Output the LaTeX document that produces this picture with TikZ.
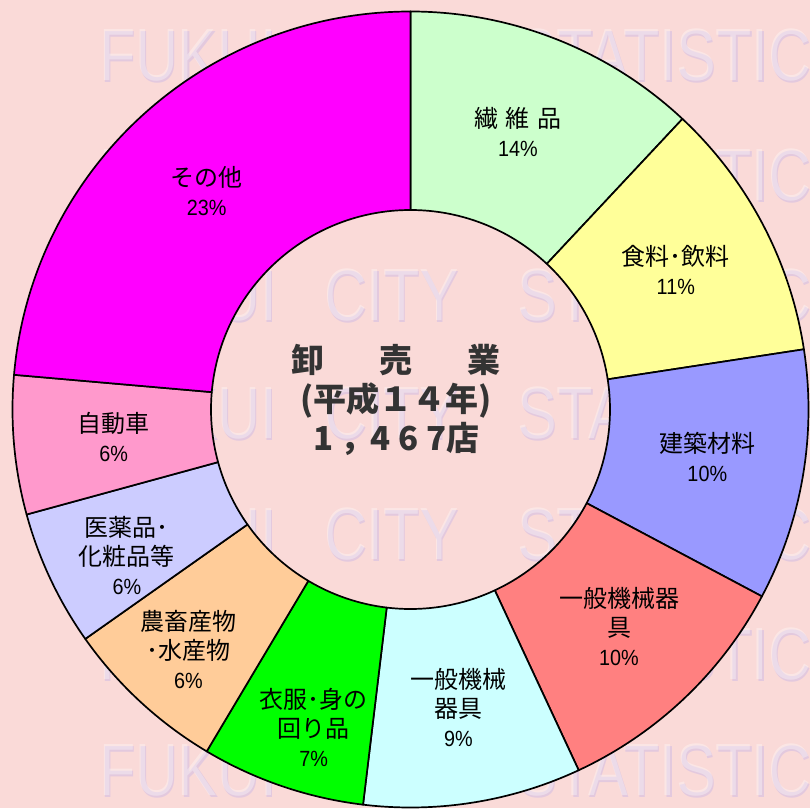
\documentclass[tikz,border=0pt]{standalone}
\usepackage{fontspec}
\newfontfamily\jpfont{Noto Sans CJK JP}
\newfontfamily\pctfont{Liberation Sans}[FakeStretch=0.9]
\newfontfamily\wmfont{Liberation Sans}[FakeStretch=0.8]

\definecolor{bgpink}{RGB}{250,218,216}
\definecolor{wmshade}{RGB}{185,170,235}
\definecolor{darktext}{RGB}{51,51,51}
\definecolor{cSen}{HTML}{CCFFCC}
\definecolor{cShoku}{HTML}{FFFF99}
\definecolor{cKen}{HTML}{9999FF}
\definecolor{cKikai}{HTML}{FF8080}
\definecolor{cIppan}{HTML}{CCFFFF}
\definecolor{cIfuku}{HTML}{00FF00}
\definecolor{cNochiku}{HTML}{FFCC99}
\definecolor{cIyaku}{HTML}{CCCCFF}
\definecolor{cJidosha}{HTML}{FF99CC}
\definecolor{cSonota}{HTML}{FF00FF}

\tikzset{
  lbl/.style={align=center, text=black, font=\jpfont\fontsize{24}{29}\selectfont},
  wm/.style={anchor=west, font=\wmfont\fontsize{74}{74}\selectfont},
}
\newcommand{\pct}[1]{{\pctfont\fontsize{22}{29}\selectfont #1\%}}
\def\Rout{398pt}
\def\Rin{199.5pt}

\begin{document}
\begin{tikzpicture}[x=1pt,y=1pt]
\useasboundingbox (-410.5,-398.5) rectangle (399.5,409.5);
\fill[bgpink] (-410.5,-398.5) rectangle (399.5,409.5);
\clip (-410.5,-398.5) rectangle (399.5,409.5);

% watermark rows
\foreach \y [count=\i] in {354,234,114,-4,-125,-245,-361} {
  \foreach \x/\w [count=\j] in {-315/FUKUI,-90/CITY,103/STATISTICS} {
    \node[wm, text=wmshade, opacity=.35] (wms\i\j) at (\x+1.5,\y-2) {\w};
    \node[wm, text=white, opacity=.35] (wm\i\j) at (\x,\y) {\w};
  }
}

% ring
\foreach \a/\b/\c in {90/46.9/cSen, 46.9/8.7/cShoku, 8.7/-28/cKen, -28/-65/cKikai,
  -65/-96.85/cIppan, -96.85/-120.8/cIfuku, -120.8/-144.8/cNochiku,
  -144.8/-164.7/cIyaku, -164.7/-185/cJidosha, -185/-270/cSonota}
  \filldraw[fill=\c, draw=black, line width=1.7pt, line join=round]
    (\a:\Rout) arc[start angle=\a, end angle=\b, radius=\Rout]
    -- (\b:\Rin) arc[start angle=\b, end angle=\a, radius=\Rin] -- cycle;

% labels
\node[lbl] (sen) at (107.5,278) {繊\hspace{8pt}維\hspace{8pt}品\\\pct{14}};
\node[lbl] (shoku) at (265.3,139.5) {食料･飲料\\\pct{11}};
\node[lbl] (ken) at (296.8,-47.2) {建築材料\\\pct{10}};
\node[lbl] (kikai) at (208.5,-217) {一般機械器\\具\\\pct{10}};
\node[lbl] (ippan) at (48,-298) {一般機械\\器具\\\pct{9}};
\node[lbl] (ifuku) at (-96.7,-318) {衣服･身の\\回り品\\\pct{7}};
\node[lbl] (nochiku) at (-222,-240) {農畜産物\\･水産物\\\pct{6}};
\node[lbl] (iyaku) at (-283.5,-146.2) {医薬品･\\化粧品等\\\pct{6}};
\node[lbl] (jidosha) at (-296.8,-27.2) {自動車\\\pct{6}};
\node[lbl] (sonota) at (-203.8,218.7) {その他\\\pct{23}};

\node[font=\jpfont\bfseries\fontsize{33}{39}\selectfont, text=darktext, align=center]
  (title) at (-14,9.5)
  {卸\hspace{55pt}売\hspace{55pt}業\\(平成１４年)\\1\hspace{7pt}，\hspace{-3pt}4\hspace{8pt}6\hspace{8pt}7店};
\end{tikzpicture}
\end{document}
